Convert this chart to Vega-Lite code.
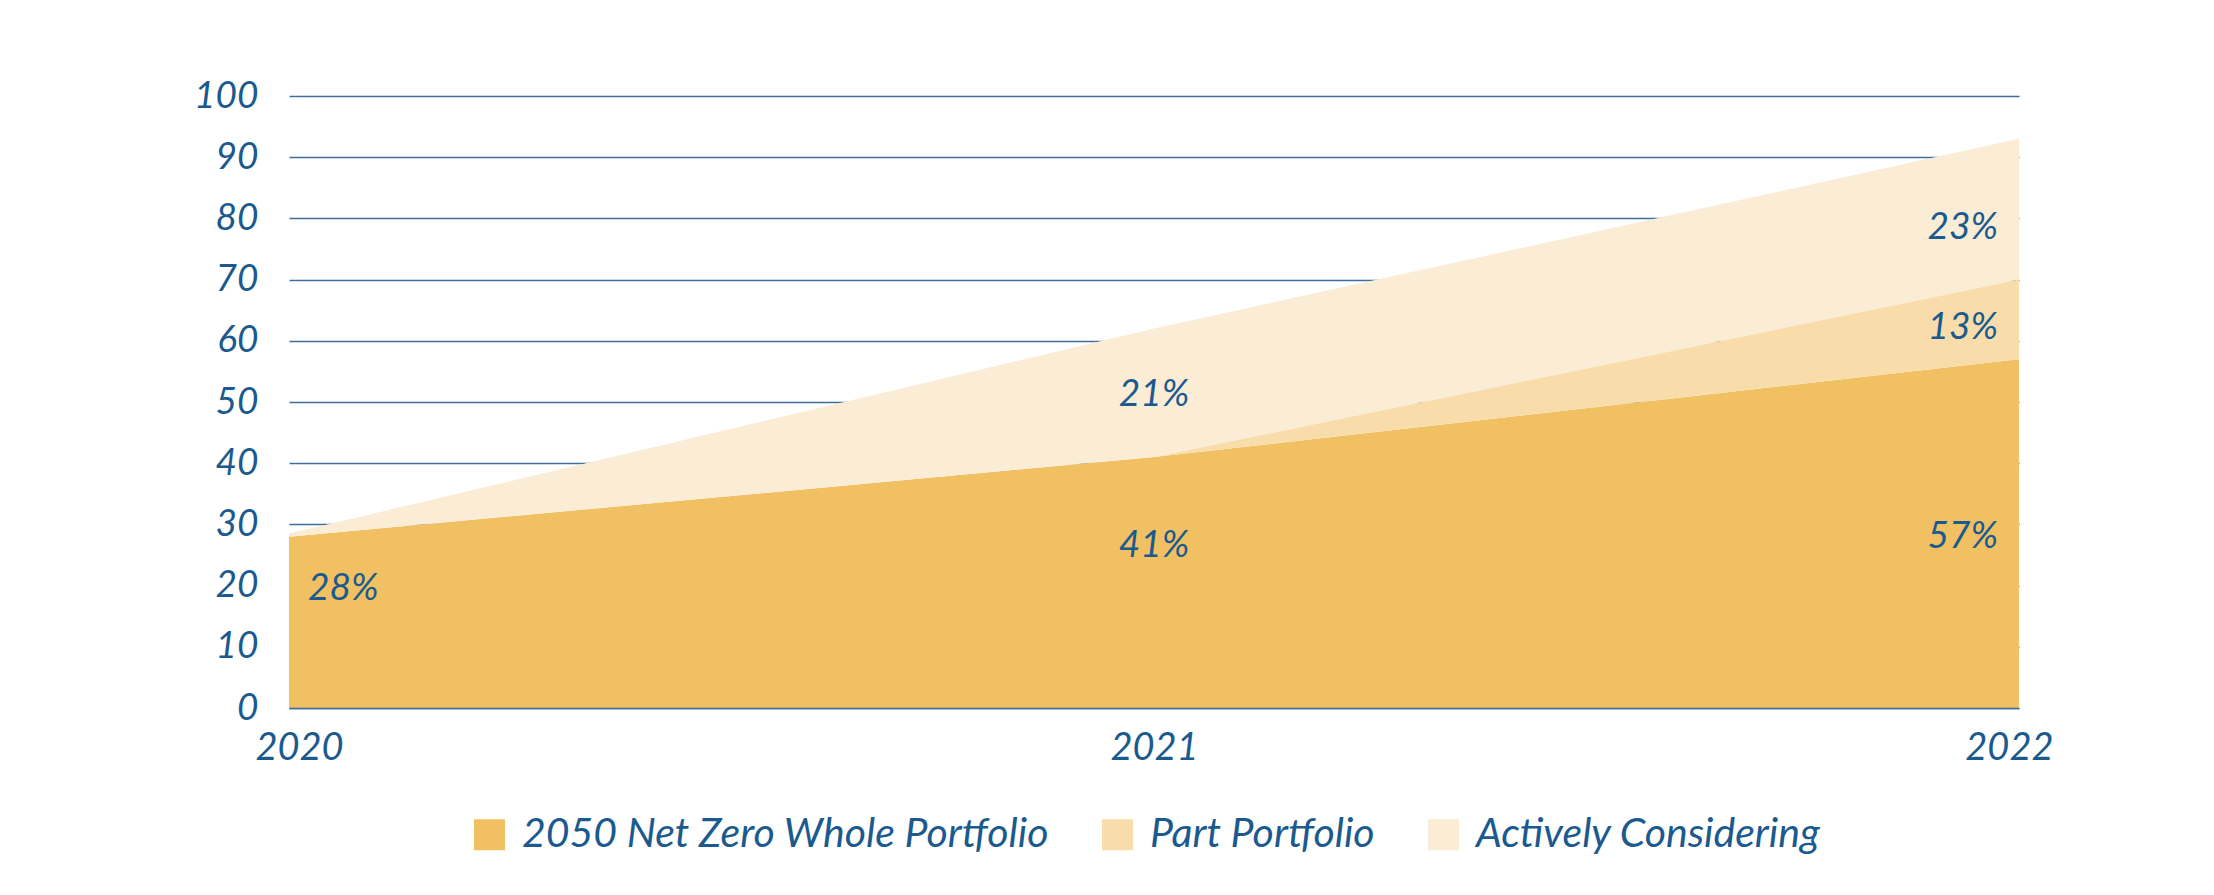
{
  "$schema": "https://vega.github.io/schema/vega-lite/v6.json",
  "autosize": "none",
  "width": 1730,
  "height": 612,
  "padding": {"left": 289, "top": 96, "right": 195, "bottom": 187},
  "background": "#FFFFFF",
  "datasets": {
    "areas": [
      {"year": 2020, "series": "2050 Net Zero Whole Portfolio", "value": 28},
      {"year": 2020, "series": "Part Portfolio", "value": 0},
      {"year": 2020, "series": "Actively Considering", "value": 0.5},
      {"year": 2021, "series": "2050 Net Zero Whole Portfolio", "value": 41},
      {"year": 2021, "series": "Part Portfolio", "value": 0},
      {"year": 2021, "series": "Actively Considering", "value": 21},
      {"year": 2022, "series": "2050 Net Zero Whole Portfolio", "value": 57},
      {"year": 2022, "series": "Part Portfolio", "value": 13},
      {"year": 2022, "series": "Actively Considering", "value": 23}
    ],
    "labels": [
      {"year": 2020, "label": "28%", "pos": 19.5},
      {"year": 2021, "label": "41%", "pos": 26.4},
      {"year": 2021, "label": "21%", "pos": 51.1},
      {"year": 2022, "label": "57%", "pos": 27.9},
      {"year": 2022, "label": "13%", "pos": 62.1},
      {"year": 2022, "label": "23%", "pos": 78.4}
    ]
  },
  "layer": [
    {
      "data": {"name": "areas"},
      "transform": [
        {"calculate": "indexof(['2050 Net Zero Whole Portfolio','Part Portfolio','Actively Considering'], datum.series)", "as": "k"}
      ],
      "mark": {"type": "area", "interpolate": "linear"},
      "encoding": {
        "x": {
          "field": "year", "type": "ordinal",
          "scale": {"type": "point", "padding": 0},
          "axis": {
            "title": null, "labelAngle": 0,
            "grid": false, "ticks": false, "domain": true,
            "domainColor": "#3F6E9C", "domainWidth": 1.5, "zindex": 1,
            "labelFont": "Lato", "labelFontStyle": "italic", "labelFontSize": 38,
            "labelColor": "#1B5A8E", "labelPadding": 21,
            "labelFlush": true, "labelFlushOffset": 34,
            "labelOverlap": false, "labelBound": false
          }
        },
        "y": {
          "field": "value", "type": "quantitative", "stack": "zero",
          "scale": {"domain": [0, 100], "nice": false},
          "axis": {
            "values": [0, 10, 20, 30, 40, 50, 60, 70, 80, 90, 100], "title": null,
            "grid": true, "gridColor": "#3F6E9C", "gridWidth": 1.3,
            "ticks": false, "domain": false,
            "labelFont": "Lato", "labelFontStyle": "italic", "labelFontSize": 37,
            "labelColor": "#1B5A8E", "labelPadding": 31
          }
        },
        "color": {
          "field": "series", "type": "nominal",
          "scale": {
            "domain": ["2050 Net Zero Whole Portfolio", "Part Portfolio", "Actively Considering"],
            "range": ["#F0C063", "#F8DDAB", "#FAECD5"]
          },
          "legend": {
            "title": null, "orient": "none", "direction": "horizontal",
            "legendX": 180, "legendY": 718,
            "symbolType": "square", "symbolSize": 961,
            "symbolStrokeWidth": 0,
            "labelFont": "Lato", "labelFontStyle": "italic", "labelFontSize": 41,
            "labelColor": "#1B5A8E", "labelOffset": 12, "columnPadding": 48,
            "labelLimit": 1000
          }
        },
        "order": {"field": "k", "type": "quantitative"}
      }
    },
    {
      "data": {"name": "labels"},
      "transform": [{"filter": "datum.year == 2020"}],
      "mark": {"type": "text", "align": "left", "baseline": "middle", "dx": 19, "font": "Lato", "fontStyle": "italic", "fontSize": 37, "color": "#1B5A8E"},
      "encoding": {
        "x": {"field": "year", "type": "ordinal"},
        "y": {"field": "pos", "type": "quantitative"},
        "text": {"field": "label"}
      }
    },
    {
      "data": {"name": "labels"},
      "transform": [{"filter": "datum.year == 2021"}],
      "mark": {"type": "text", "align": "center", "baseline": "middle", "font": "Lato", "fontStyle": "italic", "fontSize": 37, "color": "#1B5A8E"},
      "encoding": {
        "x": {"field": "year", "type": "ordinal"},
        "y": {"field": "pos", "type": "quantitative"},
        "text": {"field": "label"}
      }
    },
    {
      "data": {"name": "labels"},
      "transform": [{"filter": "datum.year == 2022"}],
      "mark": {"type": "text", "align": "right", "baseline": "middle", "dx": -21, "font": "Lato", "fontStyle": "italic", "fontSize": 37, "color": "#1B5A8E"},
      "encoding": {
        "x": {"field": "year", "type": "ordinal"},
        "y": {"field": "pos", "type": "quantitative"},
        "text": {"field": "label"}
      }
    }
  ],
  "config": {
    "view": {"stroke": null},
    "legend": {"padding": 0}
  }
}
